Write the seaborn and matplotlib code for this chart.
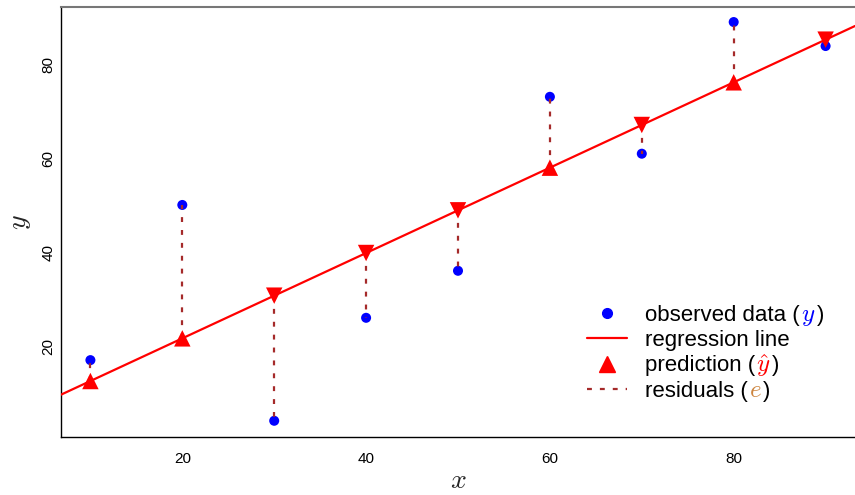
#!/usr/bin/env python3
"""Simple linear regression: observed data, fitted line, predictions and residuals."""

import numpy as np
import pandas as pd
import matplotlib.pyplot as plt
from matplotlib.lines import Line2D
import seaborn as sns

# -- data ---------------------------------------------------------------------
x_obs = [10, 20, 30, 40, 50, 60, 70, 80, 90]
y_obs = [17.2, 50.2, 4.3, 26.2, 36.2, 73.2, 61.1, 89.1, 84.0]
x_ticks = [20, 40, 60, 80]
y_ticks = [20, 40, 60, 80]

df = pd.DataFrame({"x": x_obs, "y": y_obs})
slope, intercept = np.polyfit(df["x"], df["y"], 1)
df["yhat"] = intercept + slope * df["x"]
df["resid"] = df["y"] - df["yhat"]

# -- colours ------------------------------------------------------------------
c_obs = "#0000ff"
c_fit = "#ff0000"
c_res = "#a52a2a"
c_e = "#cd853f"

# -- figure -------------------------------------------------------------------
sns.set_theme(style="white")
plt.rcParams["font.family"] = ["Liberation Sans", "DejaVu Sans"]
plt.rcParams["mathtext.fontset"] = "cm"

fig = plt.figure(figsize=(8.55, 4.95), dpi=100)
ax = fig.add_axes([61 / 855, 58 / 495, 1 - 61 / 855, 430 / 495])

xpad = (max(x_obs) - min(x_obs)) * 0.04
ax.set_xlim(min(x_obs) - xpad, max(x_obs) + xpad)
ax.set_ylim(0.85, 92.3)

# residual segments
ax.vlines(df["x"], df["yhat"], df["y"], colors=c_res, linewidth=1.6,
          linestyles=(0, (2.2, 3.6)), zorder=3)

# observed points
sns.scatterplot(data=df, x="x", y="y", ax=ax, color=c_obs, s=52,
                edgecolor="none", zorder=2, legend=False)

# regression line across the full axis
sns.regplot(data=df, x="x", y="y", ax=ax, scatter=False, ci=None,
            truncate=False, color=c_fit, line_kws={"linewidth": 1.6, "zorder": 4})

# predictions: triangle up if observed above, down if below
up = df[df["resid"] >= 0]
down = df[df["resid"] < 0]
sns.scatterplot(data=up, x="x", y="yhat", ax=ax, marker="^", color=c_fit,
                s=140, edgecolor="none", zorder=5, legend=False)
sns.scatterplot(data=down, x="x", y="yhat", ax=ax, marker="v", color=c_fit,
                s=140, edgecolor="none", zorder=5, legend=False)

# -- axes styling -------------------------------------------------------------
ax.set_xticks(x_ticks)
ax.set_yticks(y_ticks)
ax.tick_params(axis="both", length=0, labelsize=11, labelcolor="black")
ax.tick_params(axis="x", pad=11)
ax.tick_params(axis="y", pad=4)
for lab in ax.get_yticklabels():
    lab.set_rotation(90)
    lab.set_va("center")

ax.set_xlabel(r"$x$", fontsize=20, labelpad=1)
ax.set_ylabel(r"$y$", fontsize=20, labelpad=6)

for side in ["left", "bottom"]:
    ax.spines[side].set_color("black")
    ax.spines[side].set_linewidth(1.0)
ax.spines["top"].set_color("#777777")
ax.spines["top"].set_linewidth(1.5)
ax.spines["right"].set_visible(False)

# -- legend -------------------------------------------------------------------
handles = [
    Line2D([], [], linestyle="none", marker="o", color=c_obs, markersize=7),
    Line2D([], [], color=c_fit, linewidth=1.6),
    Line2D([], [], linestyle="none", marker="^", color=c_fit, markersize=11),
    Line2D([], [], color=c_res, linewidth=1.6, linestyle=(0, (2.2, 3.6))),
]
labels = ["observed data (", "regression line", "prediction (", "residuals ("]
leg = ax.legend(handles, labels, loc="upper left",
                bbox_to_anchor=(587 / 855, 1 - 305 / 495),
                bbox_transform=fig.transFigure, frameon=False, fontsize=16,
                borderpad=0, borderaxespad=0, handlelength=1.8,
                handletextpad=0.8, labelspacing=0.19)
for t in leg.get_texts():
    t.set_color("black")

# coloured symbols appended to the legend labels (drawn after the legend)
extras = {0: (r"$y$", c_obs), 2: (r"$\hat{y}$", c_fit), 3: (r"$e$", c_e)}
texts = leg.get_texts()
for idx, (sym, col) in extras.items():
    t = texts[idx]
    m = ax.annotate(sym, xy=(1, 0), xycoords=t, xytext=(1, 3.4),
                    textcoords="offset points", va="baseline", ha="left",
                    fontsize=18, color=col, zorder=10)
    ax.annotate(")", xy=(1, 0), xycoords=(m, t), xytext=(1, 0),
                textcoords="offset points", va="bottom", ha="left",
                fontsize=16, color="black", zorder=11)

fig.savefig("out.png", dpi=100)
plt.close(fig)
